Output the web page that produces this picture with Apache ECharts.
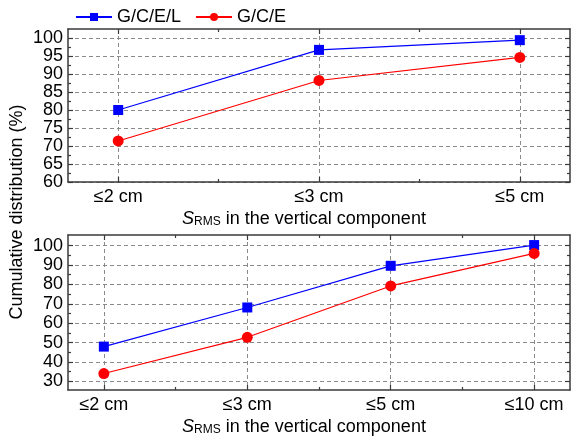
<!DOCTYPE html>
<html>
<head>
<meta charset="utf-8">
<script src="https://cdn.jsdelivr.net/npm/echarts@6/dist/echarts.min.js"></script>
<style>
  html, body { margin: 0; padding: 0; background: #fff; }
  #chart { width: 576px; height: 438px; }
</style>
</head>
<body>
<div id="chart"></div>
<script>
// Cumulative distribution of S_RMS, vertical component
var topCategories = ['≤2 cm', '≤3 cm', '≤5 cm'];
var topGCEL = [80, 96.7, 99.4];
var topGCE = [71.4, 88.2, 94.6];
var topYTicks = [60, 65, 70, 75, 80, 85, 90, 95, 100];

var botCategories = ['≤2 cm', '≤3 cm', '≤5 cm', '≤10 cm'];
var botGCEL = [47.9, 68.1, 89.6, 100.3];
var botGCE = [34, 52.7, 79.2, 96];
var botYTicks = [30, 40, 50, 60, 70, 80, 90, 100];

var seriesNames = ['G/C/E/L', 'G/C/E'];

var FONT = '"Liberation Sans", Arial, sans-serif';
var AXIS_COLOR = '#3a3a3a';

function range(n) { var a = []; for (var i = 1; i <= n; i++) a.push(i); return a; }
function mids(arr) { var m = []; for (var i = 0; i < arr.length - 1; i++) m.push((arr[i] + arr[i + 1]) / 2); return m; }

// Build a closed frame of axes for one grid: main side (labels, major ticks, grid lines),
// plus tick-only axes for minor ticks and for the opposite side.
function frameAxes(dim, gridIndex, min, max, major, labelFmt, extra) {
  var sides = dim === 'x' ? ['bottom', 'top'] : ['left', 'right'];
  var minor = mids(major);
  var common = { gridIndex: gridIndex, type: 'value', min: min, max: max, scale: true };
  var main = Object.assign({}, common, {
    position: sides[0],
    axisLine: { show: true, onZero: false, lineStyle: { color: AXIS_COLOR, width: 1.5 } },
    axisTick: { show: true, inside: true, length: 5, customValues: major, lineStyle: { color: AXIS_COLOR, width: 1.2 } },
    axisLabel: { show: true, customValues: major, formatter: labelFmt, color: '#000', fontSize: 18, fontFamily: FONT, margin: dim === 'x' ? 6 : 5 },
    splitLine: { show: true, lineStyle: { color: '#8a8a8a', type: [4, 3], width: 1 } }
  }, extra || {});
  function tickOnly(pos, vals, len, line) {
    return Object.assign({}, common, {
      position: pos,
      axisLine: { show: line, onZero: false, lineStyle: { color: AXIS_COLOR, width: 1.5 } },
      axisTick: { show: true, inside: true, length: len, customValues: vals, lineStyle: { color: AXIS_COLOR, width: 1.2 } },
      axisLabel: { show: false },
      splitLine: { show: false }
    });
  }
  return [
    main,
    tickOnly(sides[0], minor, 3, false),
    tickOnly(sides[1], major, 5, true),
    tickOnly(sides[1], minor, 3, false)
  ];
}

var nameRich = {
  s: { fontStyle: 'italic', fontSize: 18, fontFamily: FONT, color: '#000', verticalAlign: 'bottom', lineHeight: 22 },
  sub: { fontSize: 12, fontFamily: FONT, color: '#000', verticalAlign: 'bottom', lineHeight: 16 },
  n: { fontSize: 18, fontFamily: FONT, color: '#000', verticalAlign: 'bottom', lineHeight: 22 }
};
var axisName = '{s|S}{sub|RMS}{n| in the vertical component}';
var nameStyle = { rich: nameRich, padding: [0, 30, 0, 0] };

function xFmt(cats) { return function (v) { return cats[Math.round(v) - 1] || ''; }; }

var xAxes = []
  .concat(frameAxes('x', 0, 0.75, topCategories.length + 0.25, range(topCategories.length), xFmt(topCategories),
    { name: axisName, nameLocation: 'middle', nameGap: 24, nameTextStyle: nameStyle }))
  .concat(frameAxes('x', 1, 0.75, botCategories.length + 0.25, range(botCategories.length), xFmt(botCategories),
    { name: axisName, nameLocation: 'middle', nameGap: 24, nameTextStyle: nameStyle }));

var yAxes = []
  .concat(frameAxes('y', 0, 60, 102.5, topYTicks, null))
  .concat(frameAxes('y', 1, 25.5, 105.5, botYTicks, null));

function pts(vals) { return vals.map(function (v, i) { return [i + 1, v]; }); }

var blue = '#0000ff', red = '#ff0000';
function lineSeries(name, color, symbol, size, data, gi) {
  return {
    name: name, type: 'line', xAxisIndex: gi * 4, yAxisIndex: gi * 4,
    data: pts(data), color: color,
    symbol: symbol, symbolSize: size,
    lineStyle: { color: color, width: 1.2 },
    itemStyle: { color: color },
    animation: false
  };
}

var chart = echarts.init(document.getElementById('chart'), null, { renderer: 'canvas' });
chart.setOption({
  backgroundColor: '#fff',
  animation: false,
  grid: [
    { left: 68, right: 6, top: 29, height: 153 },
    { left: 68, right: 6, top: 235, height: 155 }
  ],
  legend: {
    left: 70, top: 3,
    itemWidth: 36, itemHeight: 10, itemGap: 14,
    textStyle: { fontSize: 18, fontFamily: FONT, color: '#000' },
    data: seriesNames
  },
  graphic: [{
    type: 'text', x: 17, y: 212, rotation: Math.PI / 2,
    style: { text: 'Cumulative distribution (%)', fontSize: 18, fontFamily: FONT, fill: '#000', align: 'center', verticalAlign: 'middle' }
  }],
  xAxis: xAxes,
  yAxis: yAxes,
  series: [
    lineSeries(seriesNames[0], blue, 'rect', 10, topGCEL, 0),
    lineSeries(seriesNames[1], red, 'circle', 11, topGCE, 0),
    lineSeries(seriesNames[0], blue, 'rect', 10, botGCEL, 1),
    lineSeries(seriesNames[1], red, 'circle', 11, botGCE, 1)
  ]
});
</script>
</body>
</html>
